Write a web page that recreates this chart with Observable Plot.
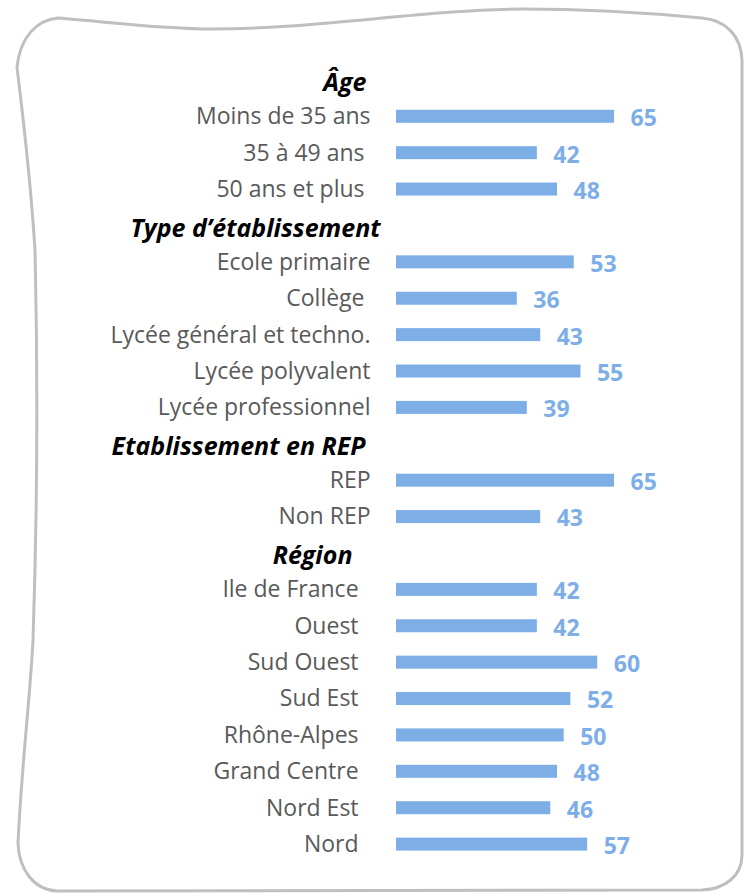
<!DOCTYPE html>
<html>
<head>
<meta charset="utf-8">
<script src="https://cdn.jsdelivr.net/npm/d3@7"></script>
<script src="https://cdn.jsdelivr.net/npm/@observablehq/plot@0.6"></script>
<style>
  html, body { margin: 0; padding: 0; background: #fff; }
  #wrap { position: relative; width: 744px; height: 894px; overflow: hidden; }
  #frame { position: absolute; left: 0; top: 0; }
  #chart { position: absolute; left: 0; top: 0; }
  #chart svg { font-family: "Open Sans", sans-serif; }
</style>
</head>
<body>
<div id="wrap">
  <svg id="frame" width="744" height="894"></svg>
  <div id="chart"></div>
</div>
<script>
// ---- data ----
const groupTitles = ["Âge", "Type d’établissement", "Etablissement en REP", "Région"];

const ageLabels = ["Moins de 35 ans", "35 à 49 ans\u00a0", "50 ans et plus\u00a0"];
const ageValues = [65, 42, 48];

const typeLabels = ["Ecole primaire", "Collège\u00a0", "Lycée général et techno.", "Lycée polyvalent", "Lycée professionnel"];
const typeValues = [53, 36, 43, 55, 39];

const repLabels = ["REP", "Non REP"];
const repValues = [65, 43];

const regionLabels = ["Ile de France\u00a0\u00a0", "Ouest\u00a0\u00a0", "Sud Ouest\u00a0\u00a0", "Sud Est\u00a0\u00a0", "Rhône-Alpes\u00a0\u00a0", "Grand Centre\u00a0\u00a0", "Nord Est\u00a0\u00a0", "Nord\u00a0\u00a0"];
const regionValues = [42, 42, 60, 52, 50, 48, 46, 57];

// ---- layout tweaks (not data) ----
const headerDx = [-30, -16, -31, -44];

// ---- build rows ----
const groupLabels = [ageLabels, typeLabels, repLabels, regionLabels];
const groupValues = [ageValues, typeValues, repValues, regionValues];

const headers = [];
const bars = [];
const order = [];
groupTitles.forEach((t, gi) => {
  const hk = "h" + gi;
  headers.push({key: hk, label: t, gi});
  order.push(hk);
  groupLabels[gi].forEach((lab, i) => {
    const k = "g" + gi + "_" + i;
    bars.push({key: k, label: lab, value: groupValues[gi][i]});
    order.push(k);
  });
});

const blue = "#7DAEE6";

const chart = Plot.plot({
  width: 744,
  height: 894,
  marginLeft: 396,
  marginRight: 130,
  marginTop: 50,
  marginBottom: 20,
  x: {domain: [0, 65], axis: null},
  y: {domain: order, axis: null, padding: 0.643, round: false},
  marks: [
    Plot.barX(bars, {x: "value", y: "key", fill: blue}),
    Plot.text(bars, {
      y: "key", text: "label", frameAnchor: "left", dx: -26,
      textAnchor: "end", fontSize: 23, fill: "#595959"
    }),
    ...headers.map(h => Plot.text([h], {
      y: "key", text: "label", frameAnchor: "left", dx: headerDx[h.gi], dy: 3,
      textAnchor: "end", fontSize: 25, fontWeight: "bold", fontStyle: "italic", fill: "#000"
    })),
    Plot.text(bars, {
      x: "value", y: "key", text: d => String(d.value), dx: 16, dy: 2,
      textAnchor: "start", fontSize: 23, fontWeight: "bold", fill: blue
    })
  ]
});
document.getElementById("chart").appendChild(chart);

// ---- decorative wavy frame ----
const frame = d3.select("#frame");
frame.append("path")
  .attr("d",
    "M 58 18 C 110 22, 160 29, 213 29 C 320 29, 420 10, 522 9 C 600 9, 660 14, 702 18" +
    " C 725 20, 741 35, 742 60 L 742 855 C 742 876, 725 889, 702 890" +
    " L 57 891 C 34 890, 19 870, 18 843 C 22 760, 30 700, 33 640" +
    " C 37 520, 38 380, 35 250 C 30 170, 22 110, 17 67 C 20 38, 36 20, 58 18 Z")
  .attr("fill", "none")
  .attr("stroke", "#BFBFBF")
  .attr("stroke-width", 3);
</script>
</body>
</html>
